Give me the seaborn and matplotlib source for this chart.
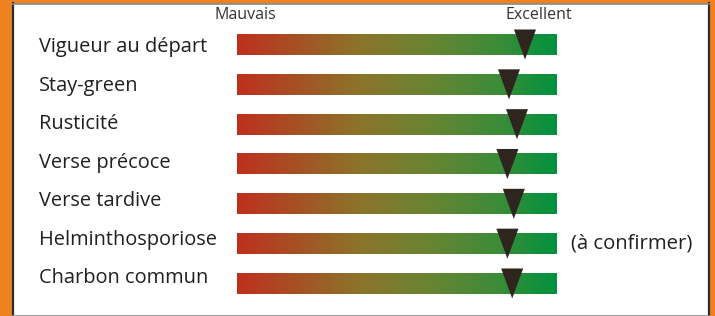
import numpy as np
import pandas as pd
import matplotlib
matplotlib.use("Agg")
import matplotlib.pyplot as plt
import seaborn as sns
from matplotlib.colors import LinearSegmentedColormap
from matplotlib.path import Path

# data
criteres = ["Vigueur au départ", "Stay-green", "Rusticité", "Verse précoce",
            "Verse tardive", "Helminthosporiose", "Charbon commun"]
notes = [9.0, 8.5, 8.75, 8.45, 8.65, 8.45, 8.6]   # 0 = Mauvais, 10 = Excellent
echelle = ["Mauvais", "Excellent"]
remarque_idx = 5
remarque = "(à confirmer)"

sns.set_style("white")
plt.rcParams['font.family'] = ['Open Sans', 'DejaVu Sans']

W, H = 715, 316
fig = plt.figure(figsize=(W / 100, H / 100), dpi=100, facecolor="#EF8220")

# panel geometry in pixels
ax_l, ax_r, ax_t, ax_b = 12.5, 708.5, 3.5, 315.5
bar_x0, bar_x1 = 237, 557
row0, step = 44.5, 39.83
ppu = (bar_x1 - bar_x0) / 10.0

ax = fig.add_axes([ax_l / W, 1 - ax_b / H, (ax_r - ax_l) / W, (ax_b - ax_t) / H])
ax.set_facecolor("white")

cmap = LinearSegmentedColormap.from_list("rg", [
    (0.0, (190/255, 48/255, 30/255)),
    (0.38, (140/255, 115/255, 42/255)),
    (0.6, (105/255, 132/255, 50/255)),
    (0.82, (60/255, 140/255, 56/255)),
    (1.0, (0/255, 146/255, 63/255)),
])
grad = np.linspace(0, 1, 256).reshape(1, -1)
bar_h = 21 / step

n = len(criteres)
for i, lab in enumerate(criteres):
    ax.imshow(grad, extent=[0, 10, i + bar_h / 2, i - bar_h / 2],
              aspect="auto", cmap=cmap, interpolation="bilinear", zorder=1)
    ly = (47 - row0) / step + i * (38.58 / step)
    ax.text(-(bar_x0 - 39) / ppu, ly, lab, ha="left", va="center",
            fontsize=14.4, color="#231f20")

ax.text(10 + (571 - bar_x1) / ppu, remarque_idx, remarque,
        ha="left", va="center", fontsize=14.6, color="#231f20")

for x, t in zip([(245 - bar_x0) / ppu, (539 - bar_x0) / ppu], echelle):
    ax.text(x, (15 - row0) / step, t, ha="center", va="center",
            fontsize=11.5, color="#333333")

tri = Path([(-0.367, 0.5), (0.367, 0.5), (0, -0.5), (-0.367, 0.5)],
           [Path.MOVETO, Path.LINETO, Path.LINETO, Path.CLOSEPOLY])
df = pd.DataFrame({"note": notes, "rang": range(n)})
sns.scatterplot(data=df, x="note", y="rang", marker=tri, s=467,
                color="#2e261e", edgecolor="none", ax=ax, zorder=3, legend=False)

ax.set_xlim(-(bar_x0 - ax_l) / ppu, 10 + (ax_r - bar_x1) / ppu)
ax.set_ylim((row0 + (n - 1) * step - ax_b) / step * -1 + (n - 1), -(row0 - ax_t) / step)
ax.set_xticks([])
ax.set_yticks([])
ax.set_xlabel("")
ax.set_ylabel("")
for side in ["left", "right"]:
    ax.spines[side].set_color("#2b2b2b")
    ax.spines[side].set_linewidth(1.6)
for side in ["top", "bottom"]:
    ax.spines[side].set_color("#8a8a8a")
    ax.spines[side].set_linewidth(1.2)

fig.savefig("out.png", dpi=100, facecolor=fig.get_facecolor())
